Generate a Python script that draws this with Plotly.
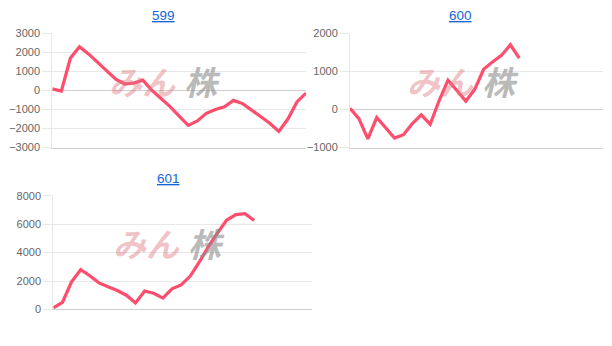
import plotly.graph_objects as go

titles = ["599", "600", "601"]

s599 = [85, -30, 1700, 2300, 1920, 1490, 1050, 590, 340, 390, 540, 0, -420, -850,
        -1350, -1830, -1600, -1200, -1000, -860, -520, -690, -1030, -1380, -1720,
        -2150, -1500, -600, -140]
s600 = [35, -240, -770, -210, -480, -750, -660, -370, -140, -390, 230, 770, 500,
        220, 530, 1055, 1250, 1420, 1700, 1350]
s601 = [110, 500, 1950, 2800, 2370, 1870, 1590, 1330, 1000, 450, 1300, 1140, 800,
        1450, 1730, 2350, 3350, 4450, 5400, 6300, 6680, 6750, 6270]

y_ticks = [
    [-3000, -2000, -1000, 0, 1000, 2000, 3000],
    [-1000, 0, 1000, 2000],
    [0, 2000, 4000, 6000, 8000],
]
y_ranges = [[-3000, 3000], [-1000, 2000], [0, 8000]]
x_ranges = [[0, 28], [0, 28.4], [0, 28.3]]

W, H = 612, 346
# plot areas in pixels: (left, right, top, bottom)
boxes = [(52.3, 306, 28.3, 146.7), (350, 603, 28.3, 146.7), (53.3, 311.7, 196.7, 314.3)]
title_pos = [(163, 9.5), (460, 9.5), (168, 178.5)]

LINE = "#ff4d6d"
GRID = "#e8e8e8"

fig = go.Figure()
series = [s599, s600, s601]
for i, s in enumerate(series):
    xa = "x" if i == 0 else f"x{i+1}"
    ya = "y" if i == 0 else f"y{i+1}"
    fig.add_trace(go.Scatter(x=list(range(len(s))), y=s, mode="lines",
                             line=dict(color=LINE, width=3.2),
                             xaxis=xa, yaxis=ya, hoverinfo="skip", showlegend=False))

layout = dict(width=W, height=H, margin=dict(l=0, r=0, t=0, b=0),
              paper_bgcolor="white", plot_bgcolor="white", showlegend=False)

annotations = []
for i in range(3):
    l, r, t, b = boxes[i]
    xk = "xaxis" if i == 0 else f"xaxis{i+1}"
    yk = "yaxis" if i == 0 else f"yaxis{i+1}"
    layout[xk] = dict(domain=[l / W, r / W], range=x_ranges[i], showgrid=False,
                      showticklabels=False, ticks="", zeroline=False,
                      showline=True, linecolor="#d0d0d0", linewidth=1,
                      anchor="y" if i == 0 else f"y{i+1}", fixedrange=True)
    layout[yk] = dict(domain=[1 - b / H, 1 - t / H], range=y_ranges[i],
                      tickvals=y_ticks[i], showgrid=True, gridcolor=GRID, gridwidth=1,
                      zeroline=True, zerolinecolor="#cfcfcf", zerolinewidth=1,
                      showline=True, linecolor=GRID, linewidth=1,
                      ticks="outside", ticklen=9, tickcolor=GRID,
                      tickfont=dict(family="Liberation Sans, Arial", size=11, color="#666666"),
                      anchor="x" if i == 0 else f"x{i+1}", fixedrange=True)
    tx, ty = title_pos[i]
    annotations.append(dict(text=titles[i], x=tx / W, y=1 - ty / H, xref="paper", yref="paper",
                            showarrow=False, xanchor="center", yanchor="middle",
                            font=dict(family="Liberation Sans, Arial", size=13.5, color="#1565d8",
                                      lineposition="under")))
    cx = (l + r) / 2
    cy = (t + b) / 2
    annotations.append(dict(text="<b><i>みん</i></b>", x=(cx - 1) / W, y=1 - (cy - 10) / H,
                            xref="paper", yref="paper", showarrow=False,
                            xanchor="right", yanchor="middle",
                            font=dict(family="Noto Sans CJK JP", size=33, weight=900,
                                      color="rgba(222,120,125,0.45)")))
    annotations.append(dict(text="<b><i>株</i></b>", x=(cx + 3) / W, y=1 - (cy - 10) / H,
                            xref="paper", yref="paper", showarrow=False,
                            xanchor="left", yanchor="middle",
                            font=dict(family="Noto Sans CJK JP", size=33, weight=900,
                                      color="rgba(140,140,140,0.6)")))

layout["annotations"] = annotations
fig.update_layout(**layout)
fig.write_html("out.html")
